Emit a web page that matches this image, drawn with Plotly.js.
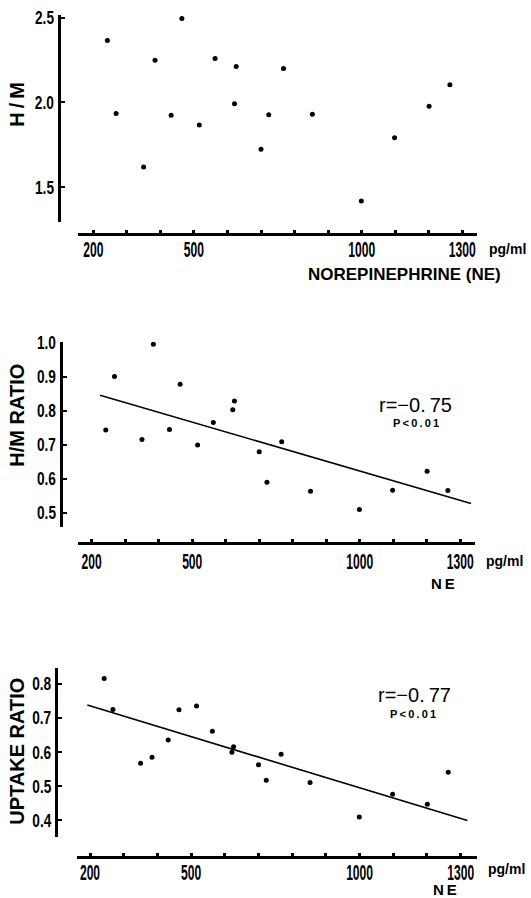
<!DOCTYPE html>
<html>
<head>
<meta charset="utf-8">
<script src="https://cdn.plot.ly/plotly-3.0.1.min.js"></script>
<style>
html,body{margin:0;padding:0;background:#fff;}
#chart{width:531px;height:898px;}
</style>
</head>
<body>
<div id="chart"></div>
<script>
// ---- data ----
const NE = [242, 268, 350, 384, 432, 464, 516, 563, 626, 621, 700, 723, 767, 853, 999, 1098, 1201, 1263];
const HM = [2.365, 1.935, 1.62, 2.249, 1.925, 2.494, 1.867, 2.259, 2.212, 1.992, 1.725, 1.927, 2.2, 1.931, 1.42, 1.792, 1.978, 2.104];
const HM_RATIO = [0.743, 0.900, 0.715, 0.995, 0.744, 0.877, 0.699, 0.765, 0.828, 0.802, 0.679, 0.589, 0.708, 0.563, 0.509, 0.566, 0.622, 0.565];
const UPTAKE = [0.815, 0.724, 0.567, 0.584, 0.635, 0.723, 0.734, 0.660, 0.615, 0.599, 0.562, 0.517, 0.593, 0.510, 0.409, 0.476, 0.447, 0.540];
const FIT_HM_X = [225, 1332];
const FIT_HM_Y = [0.845, 0.527];
const FIT_UP_X = [192, 1320];
const FIT_UP_Y = [0.737, 0.399];
const X_TICKS = [200, 300, 400, 500, 600, 700, 800, 900, 1000, 1100, 1200, 1300];
const X_TICKTEXT = ['200', '', '', '500', '', '', '', '', '1000', '', '', '1300'];
const Y1_TICKS = [1.5, 2.0, 2.5];
const Y1_TEXT = ['1.5', '2.0', '2.5'];
const Y2_TICKS = [0.5, 0.6, 0.7, 0.8, 0.9, 1.0];
const Y2_TEXT = ['0.5', '0.6', '0.7', '0.8', '0.9', '1.0'];
const Y3_TICKS = [0.4, 0.5, 0.6, 0.7, 0.8];
const Y3_TEXT = ['0.4', '0.5', '0.6', '0.7', '0.8'];

// ---- layout helpers (pixel -> paper) ----
const W = 531, H = 898;
const px = x => x / W;
const py = y => 1 - y / H;

const sansFamily = '"Liberation Sans", Arial, sans-serif';
const tickFont = {family: sansFamily, size: 22, color: '#000', weight: 'bold'};
const ytickFont = {family: sansFamily, size: 19, color: '#000', weight: 'bold'};
const labelFont = {family: sansFamily, size: 20, color: '#000', weight: 'bold'};

function xAxis(dom, range, posY) {
  return {
    domain: [px(dom[0]), px(dom[1])], range: range, anchor: 'free', position: py(posY),
    showline: true, linewidth: 3, linecolor: '#000', showgrid: false, zeroline: false,
    ticks: 'inside', ticklen: 3, tickwidth: 3, tickcolor: '#000',
    tickmode: 'array', tickvals: X_TICKS, ticktext: X_TICKTEXT, tickfont: tickFont,
    ticklabelstandoff: 0, fixedrange: true
  };
}
function yAxis(dom, range, posX, tv, tt) {
  return {
    domain: [py(dom[1]), py(dom[0])], range: range, anchor: 'free', position: px(posX),
    showline: true, linewidth: 3, linecolor: '#000', showgrid: false, zeroline: false,
    ticks: 'inside', ticklen: 4, tickwidth: 2, tickcolor: '#000',
    tickmode: 'array', tickvals: tv, ticktext: tt, tickfont: ytickFont,
    fixedrange: true
  };
}

const marker = {color: '#000', size: 5};
const traces = [
  {x: NE, y: HM, xaxis: 'x', yaxis: 'y', mode: 'markers', type: 'scatter', marker: marker, hoverinfo: 'skip'},
  {x: NE, y: HM_RATIO, xaxis: 'x2', yaxis: 'y2', mode: 'markers', type: 'scatter', marker: marker, hoverinfo: 'skip'},
  {x: FIT_HM_X, y: FIT_HM_Y, xaxis: 'x2', yaxis: 'y2', mode: 'lines', type: 'scatter', line: {color: '#000', width: 1.6}, hoverinfo: 'skip'},
  {x: NE, y: UPTAKE, xaxis: 'x3', yaxis: 'y3', mode: 'markers', type: 'scatter', marker: marker, hoverinfo: 'skip'},
  {x: FIT_UP_X, y: FIT_UP_Y, xaxis: 'x3', yaxis: 'y3', mode: 'lines', type: 'scatter', line: {color: '#000', width: 1.6}, hoverinfo: 'skip'}
];

const ann = (x, y, text, font, extra) => Object.assign({
  xref: 'paper', yref: 'paper', x: px(x), y: py(y), text: text, showarrow: false,
  xanchor: 'center', yanchor: 'middle', font: font
}, extra || {});

const unitFont = {family: sansFamily, size: 14, color: '#000', weight: 'bold'};
const neFont = {family: sansFamily, size: 17, color: '#000', weight: 'bold'};
const ne2Font = {family: sansFamily, size: 15, color: '#000', weight: 'bold'};
const rFont = {family: sansFamily, size: 20, color: '#000'};
const pFont = {family: sansFamily, size: 11, color: '#000', weight: 'bold'};
const thin = '\u2009';
const spaced = s => s.split('').join(thin);

const layout = {
  width: W, height: H, margin: {l: 0, r: 0, t: 0, b: 0},
  paper_bgcolor: '#fff', plot_bgcolor: 'rgba(0,0,0,0)', showlegend: false,
  xaxis: xAxis([77.7, 476.7], [153.5, 1342.9], 234.3),
  yaxis: yAxis([15, 221.7], [1.2976, 2.515], 58.7, Y1_TICKS, Y1_TEXT),
  xaxis2: xAxis([77.7, 475], [158.2, 1343.9], 543.3),
  yaxis2: yAxis([341.7, 526.7], [0.4587, 1.0023], 60.7, Y2_TICKS, Y2_TEXT),
  xaxis3: xAxis([76.7, 476.7], [160.5, 1347.5], 856.7),
  yaxis3: yAxis([668.3, 836.7], [0.3517, 0.8446], 56, Y3_TICKS, Y3_TEXT),
  annotations: [
    ann(16.7, 104, 'H' + thin + '/' + thin + 'M', labelFont, {textangle: -90}),
    ann(16.7, 415, 'H/M RATIO', labelFont, {textangle: -90}),
    ann(16.7, 751, 'UPTAKE RATIO', labelFont, {textangle: -90}),
    ann(487, 249, 'pg/ml', unitFont, {xanchor: 'left'}),
    ann(484, 561, 'pg/ml', unitFont, {xanchor: 'left'}),
    ann(486, 869, 'pg/ml', unitFont, {xanchor: 'left'}),
    ann(404, 274, 'NOREPINEPHRINE (NE)', neFont),
    ann(443, 583, 'N' + thin + 'E', ne2Font),
    ann(445, 889, 'N' + thin + 'E', ne2Font),
    ann(415, 405, 'r=\u22120.' + thin + '75', rFont),
    ann(416, 423, spaced('P<0.01'), pFont),
    ann(414, 695, 'r=\u22120.' + thin + '77', rFont),
    ann(413, 714, spaced('P<0.01'), pFont)
  ]
};

// squeeze tick labels horizontally to imitate the narrow lettering of the original
function condense(sel, s, anchor, dy) {
  document.querySelectorAll(sel).forEach(t => {
    const b = t.getBBox();
    if (!b.width) return;
    const cx = anchor === 'end' ? b.x + b.width : b.x + b.width / 2;
    const base = t.getAttribute('transform') || '';
    t.setAttribute('transform', base + ' translate(' + cx + ',' + dy + ') scale(' + s + ',1) translate(' + (-cx) + ',0)');
  });
}

Plotly.newPlot('chart', traces, layout, {displayModeBar: false, staticPlot: true}).then(() => {
  condense('.xtick text', 0.55, 'middle', -6);
  condense('.x2tick text', 0.55, 'middle', -3);
  condense('.x3tick text', 0.55, 'middle', -5);
  condense('.ytick text, .y2tick text, .y3tick text', 0.72, 'end', 0);
});
</script>
</body>
</html>
